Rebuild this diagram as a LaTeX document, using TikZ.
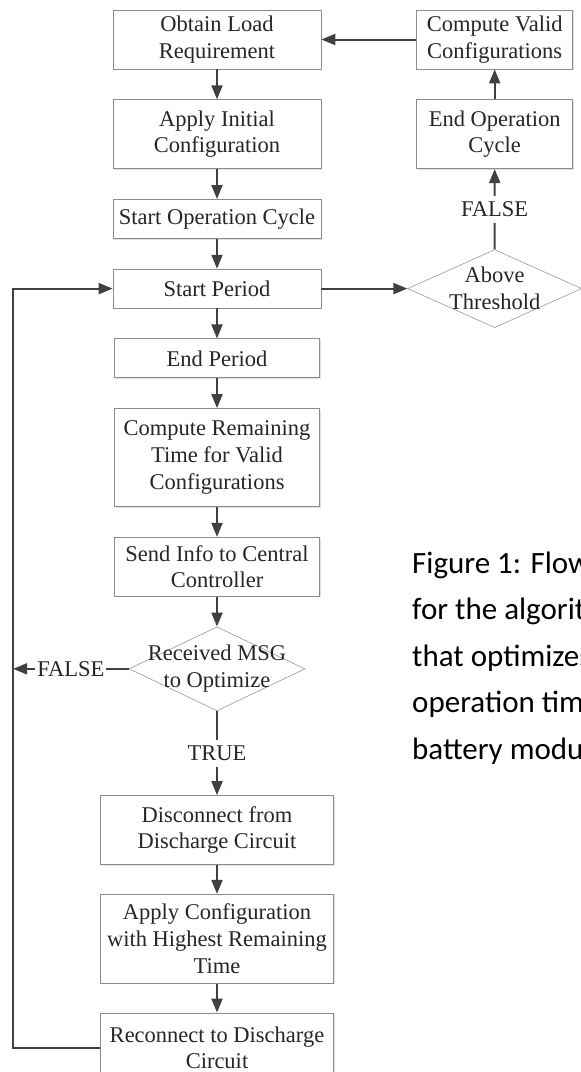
\documentclass[tikz,border=0pt]{standalone}
\usepackage{fontspec}
\setmainfont{Liberation Serif}
\newfontfamily\capfont{Carlito}
\usetikzlibrary{positioning,shapes.geometric,arrows.meta,shadows}

\begin{document}
\begin{tikzpicture}[x=1pt,y=1pt,
   box/.style={draw=black!45,line width=0.7pt,fill=white,text=black!85,align=center,
     font=\fontsize{22.5}{26.7}\selectfont,inner sep=3pt,minimum width=#1,
     drop shadow={shadow xshift=1.2pt,shadow yshift=-1.2pt,fill=black!12,opacity=1}},
   box/.default=208pt,
   dec/.style={diamond,draw=black!40,line width=0.6pt,fill=white,inner sep=0pt,minimum width=#1},
   lab/.style={align=center,text=black!85,font=\fontsize{22.5}{26.7}\selectfont},
   tag/.style={lab,fill=white,inner xsep=2pt,inner ysep=6pt},
   arr/.style={draw=black!75,line width=2pt,-{Triangle[length=14pt,width=11pt]}},
   capt/.style={font=\capfont\fontsize{31}{46.5}\selectfont,text=black,inner sep=0pt},
   node distance=30pt]
 \path[use as bounding box,clip] (0,0) rectangle (581,-1072);
 % main column
 \node[box,minimum height=59pt] (obtain) at (217,-39.5) {Obtain Load\\Requirement};
 \node[box,minimum height=69pt,below=of obtain] (init) {Apply Initial\\Configuration};
 \node[box,minimum height=39pt,below=of init] (startop) {Start Operation Cycle};
 \node[box,minimum height=39pt,below=of startop] (period) {Start Period};
 \node[box=205pt,minimum height=39pt,below=of period] (endper) {End Period};
 \node[box=205pt,minimum height=98pt,below=of endper] (comprem) {Compute Remaining\\Time for Valid\\Configurations};
 \node[box=205pt,minimum height=59pt,below=of comprem] (send) {Send Info to Central\\Controller};
 \node[dec=176pt,minimum height=84pt,below=of send,
   label={[lab]center:Received MSG\\to Optimize}] (recv) {};
 \node[box=233pt,minimum height=69pt,below=84pt of recv] (disc) {Disconnect from\\Discharge Circuit};
 \node[box=233pt,minimum height=89pt,below=29pt of disc] (apply) {Apply Configuration\\with Highest Remaining\\Time};
 \node[box=233pt,minimum height=70pt,below=29pt of apply] (recon) {Reconnect to Discharge\\Circuit};
 % right column
 \node[box=156pt,minimum height=59pt,right=95pt of obtain] (compvalid) {Compute Valid\\Configurations};
 \node[box=156pt,minimum height=69pt,below=of compvalid] (endop) {End Operation\\Cycle};
 \node[dec=174pt,minimum height=78pt,right=86pt of period,
   label={[lab]center:Above\\Threshold}] (above) {};
 % connectors
 \foreach \a/\b in {obtain/init,init/startop,startop/period,period/endper,endper/comprem,
   comprem/send,send/recv,disc/apply,apply/recon,endop/compvalid,compvalid/obtain,period/above}
   \draw[arr] (\a) -- (\b);
 \draw[arr] (above) -- node[tag]{FALSE} (endop);
 \draw[arr] (recv) -- node[tag]{TRUE} (disc);
 \coordinate[left=87pt of recon] (lp1);
 \draw[arr] (recon.west) -- (lp1) |- (period.west);
 \draw[arr] (recv.west) -- node[tag]{FALSE} (recv.west -| lp1);
 % caption
 \foreach \t [count=\i from 0] in {Figure 1: Flowchart,for the algorithm,that optimizes the,operation time of,battery modules}
   \node[capt,anchor=base west] (cap\i) at (412,-573-46.5*\i) {\t};
\end{tikzpicture}
\end{document}
